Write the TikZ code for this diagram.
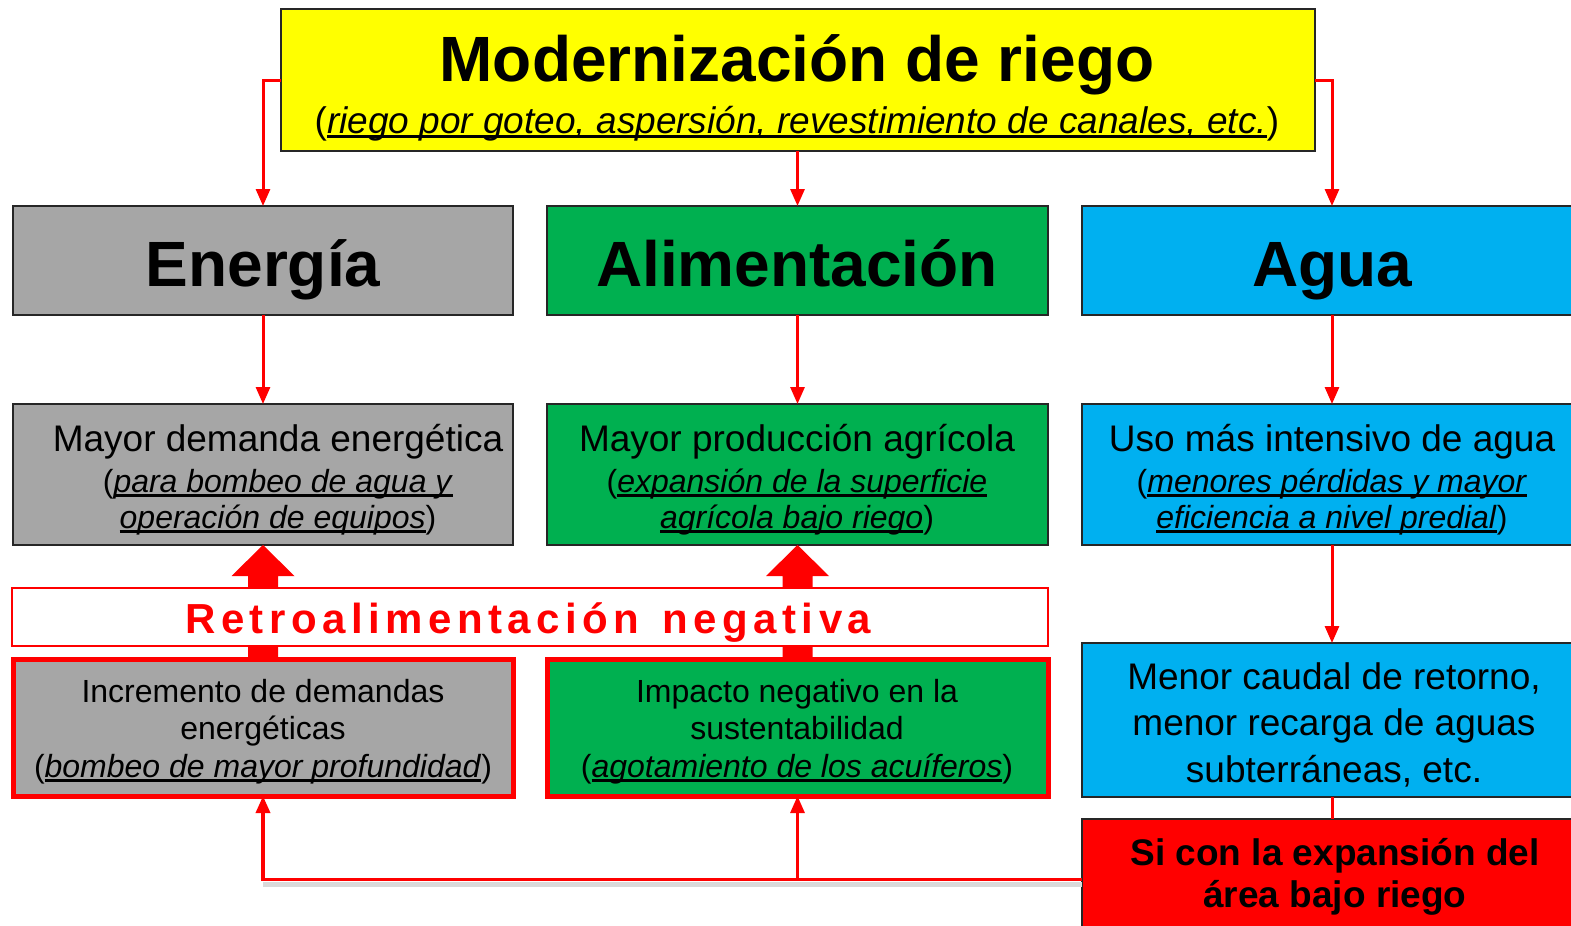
\documentclass[tikz,border=0pt]{standalone}
\usepackage{fontspec}
\setmainfont{Liberation Sans}
\usetikzlibrary{arrows.meta,calc}
\definecolor{cyel}{HTML}{FFFF00}
\definecolor{cgray}{HTML}{A6A6A6}
\definecolor{cgreen}{HTML}{00B050}
\definecolor{cblue}{HTML}{00B0F0}
\definecolor{cred}{HTML}{FF0000}
\newsavebox\myulbox
\newcommand\myul[1]{\sbox\myulbox{#1}\rlap{\vrule height -2.2pt depth 5pt width \wd\myulbox}\usebox\myulbox}
\newcommand\myls[1]{\mylsA#1\relax}
\def\mylsA#1{\ifx#1\relax\else#1\kern5.5pt\expandafter\mylsA\fi}
\newcommand\fsz[1]{\fontsize{#1pt}{#1pt}\selectfont}
\begin{document}
\begin{tikzpicture}[x=1pt,y=-1pt,
  box/.style={draw=black!85, line width=2pt, inner sep=0pt, outer sep=0pt},
  redbox/.style={draw=cred, line width=5pt, inner sep=0pt, outer sep=0pt},
  txt/.style={anchor=base, inner sep=0pt, outer sep=0pt},
  conn/.style={draw=cred, line width=3pt, -{Triangle[width=14pt,length=17pt]}},
  plain/.style={draw=cred, line width=3pt},
  fat/.style={fill=cred},
  big/.style={font=\fsz{64}\bfseries},
  mid/.style={font=\fsz{37}},
  sm/.style={font=\fsz{32}}]
\useasboundingbox (0,0) rectangle (1571,926);
\clip (0,0) rectangle (1571,926);

% boxes
\node[box, fill=cyel, minimum width=1034pt, minimum height=142pt] (top) at (798,80) {};
\node[box, fill=cgray, minimum width=500pt, minimum height=109pt] (ene) at (263,260.5) {};
\node[box, fill=cgreen, minimum width=501pt, minimum height=109pt] (ali) at (797.5,260.5) {};
\node[box, fill=cblue, minimum width=500pt, minimum height=109pt] (agu) at (1332,260.5) {};
\node[box, fill=cgray, minimum width=500pt, minimum height=141pt] (eneM) at (263,474.5) {};
\node[box, fill=cgreen, minimum width=501pt, minimum height=141pt] (aliM) at (797.5,474.5) {};
\node[box, fill=cblue, minimum width=500pt, minimum height=141pt] (aguM) at (1332,474.5) {};
\node[redbox, fill=cgray, minimum width=500pt, minimum height=137pt] (eneB) at (263,727.5) {};
\node[redbox, fill=cgreen, minimum width=501pt, minimum height=137pt] (aliB) at (797.5,727.5) {};
\node[box, fill=cblue, minimum width=500pt, minimum height=154pt] (aguB) at (1332,720) {};
\node[box, fill=cred, minimum width=501pt, minimum height=121pt] (rojo) at (1332.5,879.5) {};

% thick feedback arrows (behind the Retroalimentacion bar)
\fill[fat] ($(eneB.north)+(-15,0)$) -- ($(eneM.south)+(-15,31)$) -- ($(eneM.south)+(-31.5,31)$) -- (eneM.south)
  -- ($(eneM.south)+(31.5,31)$) -- ($(eneM.south)+(15,31)$) -- ($(eneB.north)+(15,0)$) -- cycle;
\fill[fat] ($(aliB.north)+(-15,0)$) -- ($(aliM.south)+(-15,31)$) -- ($(aliM.south)+(-31.5,31)$) -- (aliM.south)
  -- ($(aliM.south)+(31.5,31)$) -- ($(aliM.south)+(15,31)$) -- ($(aliB.north)+(15,0)$) -- cycle;

\node[draw=cred, line width=2.5pt, fill=white, inner sep=0pt, outer sep=0pt, minimum width=1036pt, minimum height=58pt] (retro) at (530,617) {};

% connectors
\draw[conn] (top.west) -| (ene.north);
\draw[conn] (ali.north |- top.south) -- (ali.north);
\draw[conn] (top.east) -| (agu.north);
\draw[conn] (ene.south) -- (eneM.north);
\draw[conn] (ali.south) -- (aliM.north);
\draw[conn] (agu.south) -- (aguM.north);
\draw[conn] (aguM.south) -- (aguB.north);
\draw[plain] (aguB.south) -- (aguB.south |- rojo.north);
\draw[gray!30, line width=5pt] ([yshift=-5pt]rojo.west) -- ([yshift=-5pt]eneB.south |- rojo.west);
\draw[conn, line width=3.5pt] (rojo.west) -| (eneB.south);
\draw[conn] (aliB.south |- rojo.west) -- (aliB.south);

% texts
\node[txt, big] (topT) at (797,81) {Modernización de riego};
\node[txt, mid] (topS) at (797,133) {(\myul{\textit{riego por goteo, aspersión, revestimiento de canales, etc.}})};

\node[txt, big] (eneT) at (263,286) {Energía};
\node[txt, big] (aliT) at (797,286) {Alimentación};
\node[txt, big] (aguT) at (1332,286) {Agua};

\node[txt, mid] (eneM1) at (278,451) {Mayor demanda energética};
\node[txt, sm] (eneM2) at (278,492) {(\myul{\textit{para bombeo de agua y}}};
\node[txt, sm] (eneM3) at (278,528) {\myul{\textit{operación de equipos}})};

\node[txt, mid] (aliM1) at (797,451) {Mayor producción agrícola};
\node[txt, sm] (aliM2) at (797,492) {(\myul{\textit{expansión de la superficie}}};
\node[txt, sm] (aliM3) at (797,528) {\myul{\textit{agrícola bajo riego}})};

\node[txt, mid] (aguM1) at (1332,451) {Uso más intensivo de agua};
\node[txt, sm] (aguM2) at (1332,492) {(\myul{\textit{menores pérdidas y mayor}}};
\node[txt, sm] (aguM3) at (1332,528) {\myul{\textit{eficiencia a nivel predial}})};

\node[txt, font=\fsz{42}\bfseries, text=cred] (retroT) at (531,633) {\myls{Retroalimentación}\kern17.2pt\myls{negativa}};

\node[txt, sm] (eneB1) at (263,702) {Incremento de demandas};
\node[txt, sm] (eneB2) at (263,739) {energéticas};
\node[txt, sm] (eneB3) at (263,777) {(\myul{\textit{bombeo de mayor profundidad}})};

\node[txt, sm] (aliB1) at (797,702) {Impacto negativo en la};
\node[txt, sm] (aliB2) at (797,739) {sustentabilidad};
\node[txt, sm] (aliB3) at (797,777) {(\myul{\textit{agotamiento de los acuíferos}})};

\node[txt, mid] (aguB1) at (1334,689) {Menor caudal de retorno,};
\node[txt, mid] (aguB2) at (1334,735) {menor recarga de aguas};
\node[txt, mid] (aguB3) at (1334,782) {subterráneas, etc.};

\node[txt, font=\fsz{37}\bfseries] (rojo1) at (1335,865) {Si con la expansión del};
\node[txt, font=\fsz{37}\bfseries] (rojo2) at (1335,907) {área bajo riego};
\end{tikzpicture}
\end{document}
